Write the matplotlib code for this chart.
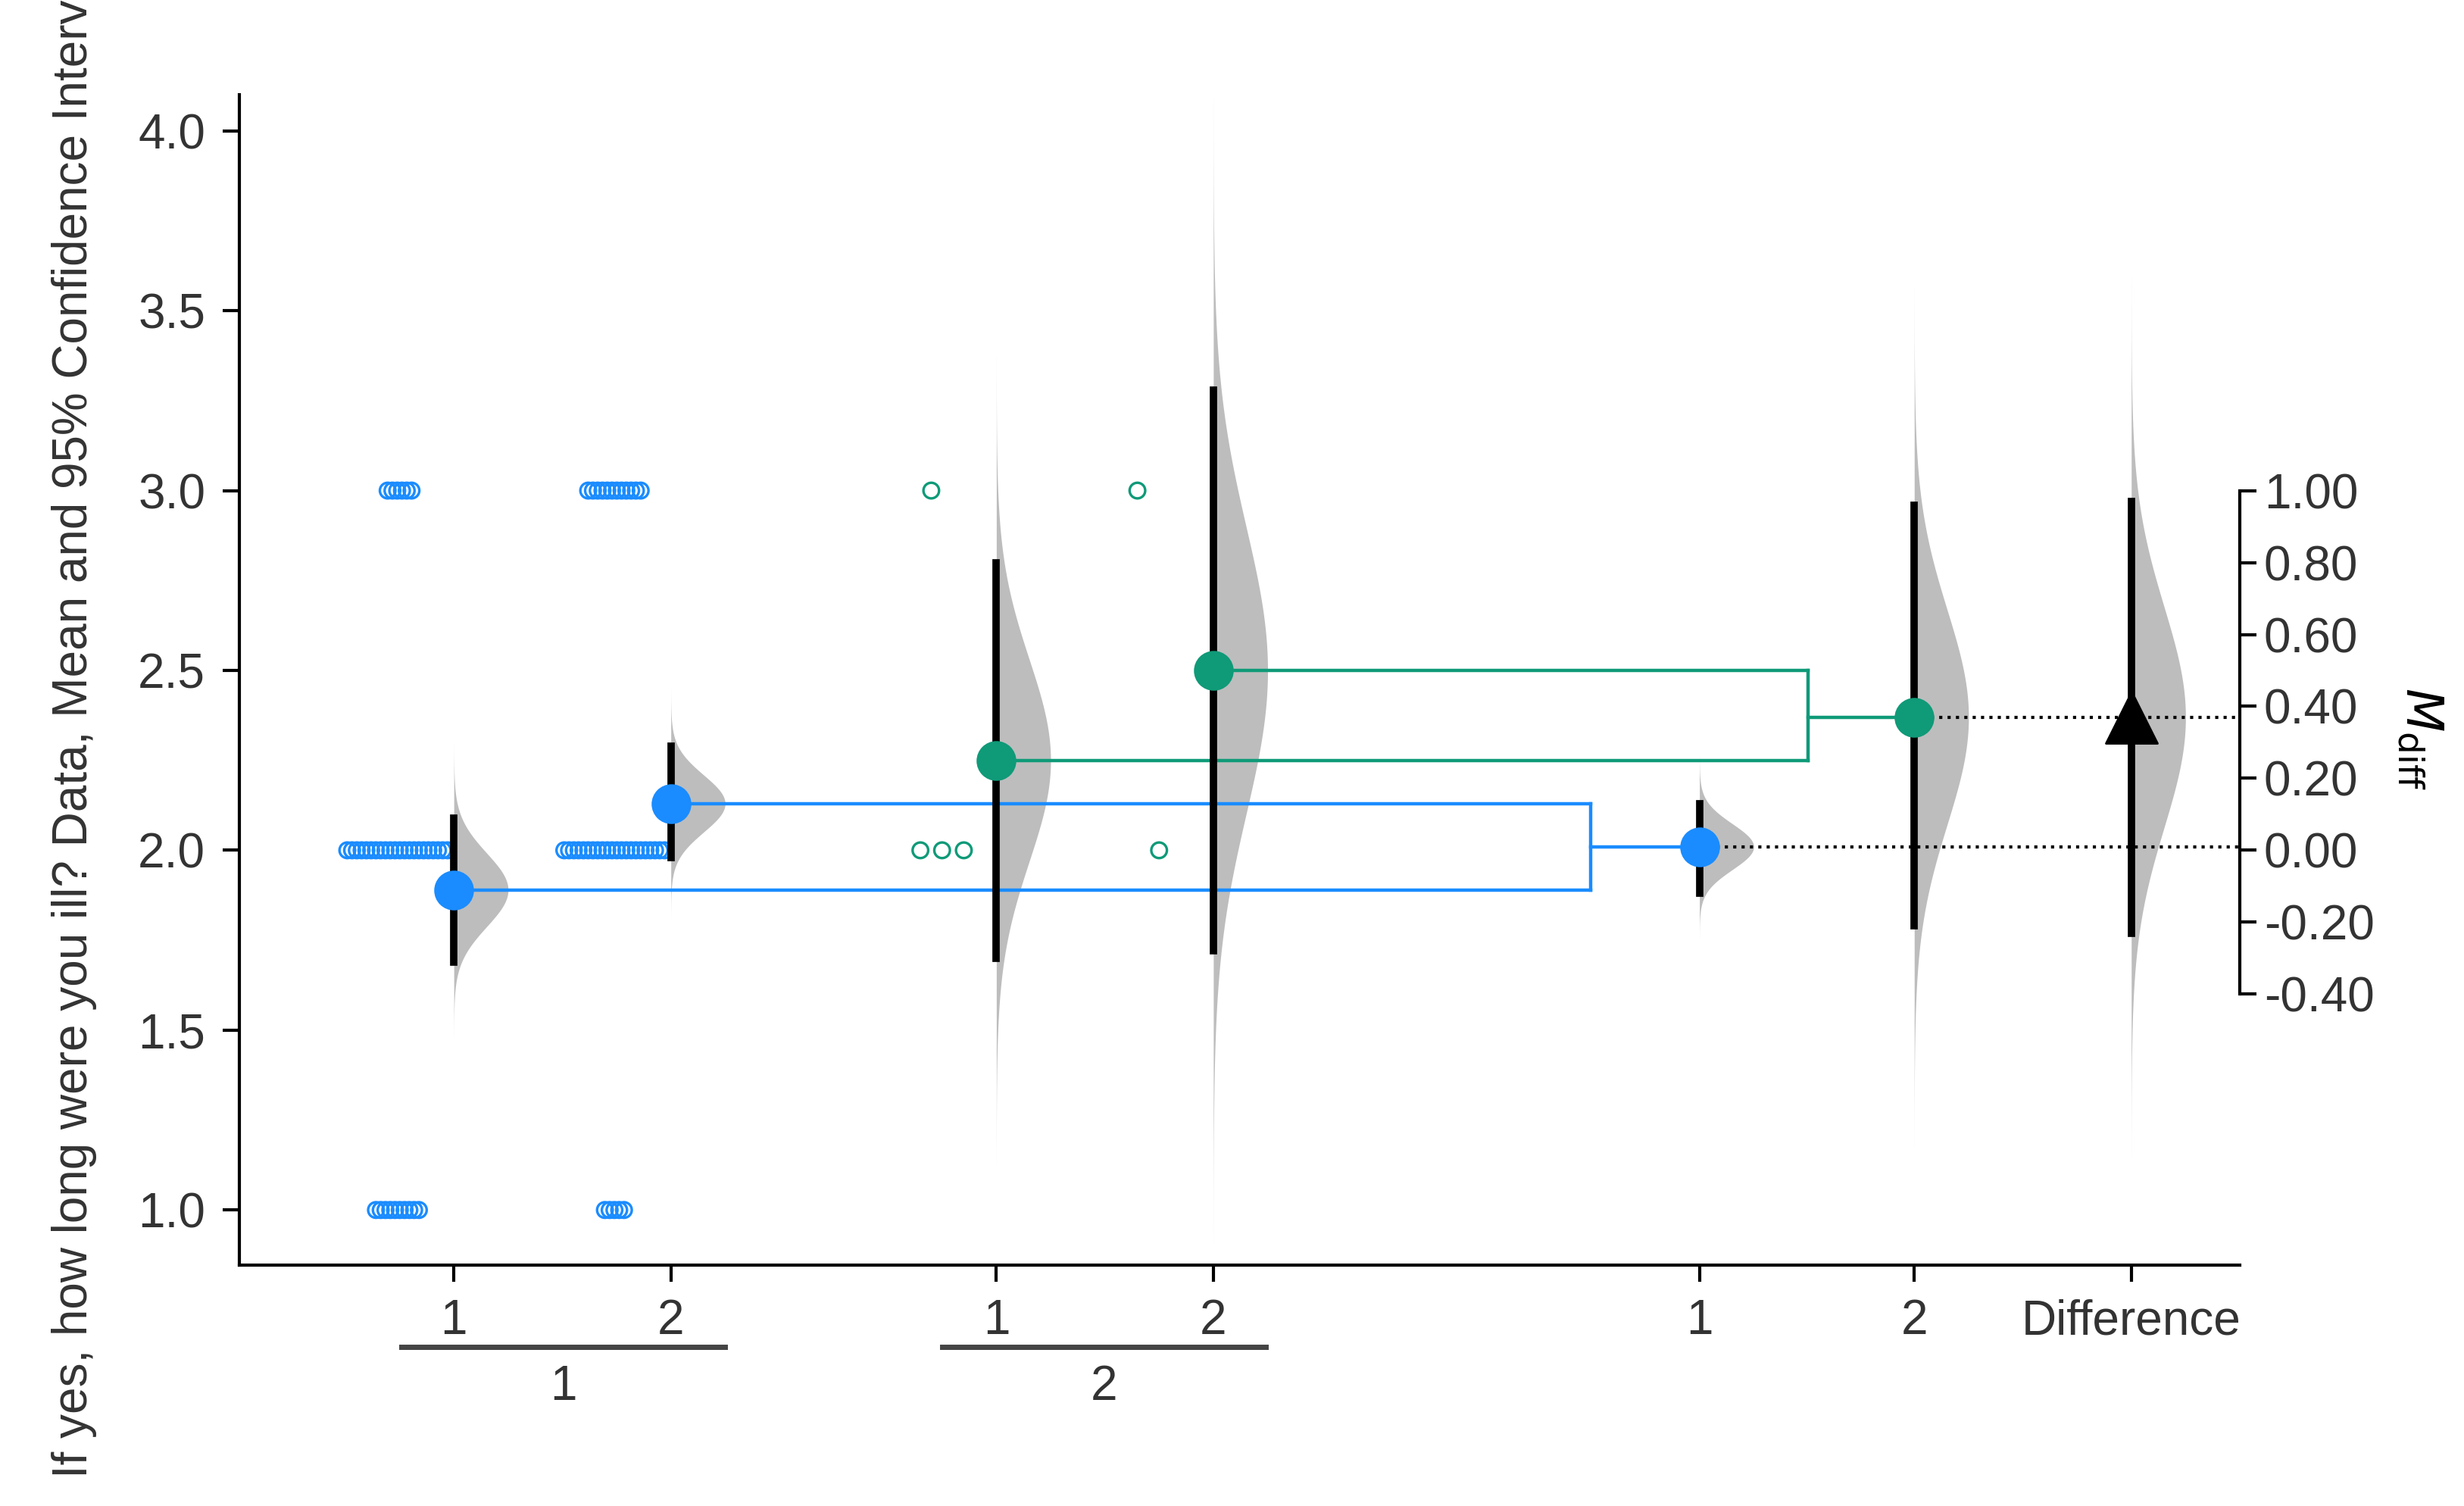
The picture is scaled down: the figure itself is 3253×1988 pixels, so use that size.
import numpy as np
import matplotlib
matplotlib.use("Agg")
import matplotlib.pyplot as plt

plt.rcParams['font.family'] = ['Liberation Sans', 'DejaVu Sans']

blue = '#1a8cff'
green = '#0f9a78'

# positions / data
xpos = [0, 1, 2.5, 3.5, 5.74, 6.73, 7.73]
tick_labels = ['1', '2', '1', '2', '1', '2', 'Difference']
means = [1.89, 2.13, 2.25, 2.50]
ci_lo = [1.69, 1.98, 1.70, 1.72]
ci_hi = [2.09, 2.29, 2.80, 3.28]
colors = [blue, blue, green, green]
# raw data: counts at each level
levels = [1.0, 2.0, 3.0]
counts = [[10, 22, 6], [5, 22, 12], [0, 3, 1], [0, 1, 1]]
pt_center = {(0, 1.0): -0.26, (0, 2.0): -0.26, (0, 3.0): -0.25,
             (1, 1.0): -0.26, (1, 2.0): -0.26, (1, 3.0): -0.26,
             (2, 2.0): -0.25, (2, 3.0): -0.3,
             (3, 2.0): -0.25, (3, 3.0): -0.35}
diff_means = [0.01, 0.37]
diff_lo = [-0.12, -0.21]
diff_hi = [0.13, 0.96]
pooled_mean = 0.37
pooled_lo = -0.23
pooled_hi = 0.97

fig = plt.figure(figsize=(16.265, 9.94), dpi=200)
ax = fig.add_axes([0.097, 0.16, 0.812, 0.777])
ax.set_xlim(-0.99, 8.23)
ax.set_ylim(0.847, 4.10)

def halfviolin(x, m, lo, hi, w=0.25):
    sd = (hi - lo) / 2 / 1.96
    y = np.linspace(m - 4 * sd, m + 4 * sd, 300)
    d = np.exp(-0.5 * ((y - m) / sd) ** 2)
    ax.fill_betweenx(y, x, x + w * d, color='#bdbdbd', lw=0, zorder=1)

for i in range(4):
    x = xpos[i]
    for lv, c in zip(levels, counts[i]):
        if c == 0:
            continue
        sp = 0.022 if c > 4 else 0.1
        xs = x + pt_center[(i, lv)] + (np.arange(c) - (c - 1) / 2) * sp
        ax.scatter(xs, [lv] * c, s=55, facecolors='none', edgecolors=colors[i], lw=1.2, zorder=3)
    halfviolin(x, means[i], ci_lo[i], ci_hi[i])
    ax.plot([x, x], [ci_lo[i], ci_hi[i]], color='black', lw=3.5, zorder=4)
    ax.scatter([x], [means[i]], s=320, color=colors[i], zorder=5)

# differences (right axis offset: diff 0 <-> 2.0 of left)
base = 2.0
for j, (xd, c) in enumerate(zip(xpos[4:6], [blue, green])):
    m = base + diff_means[j]
    halfviolin(xd, m, base + diff_lo[j], base + diff_hi[j])
    ax.plot([xd, xd], [base + diff_lo[j], base + diff_hi[j]], color='black', lw=3.5, zorder=4)
    ax.scatter([xd], [m], s=320, color=c, zorder=5)
    ax.plot([xd, 8.23], [m, m], color='black', ls=':', lw=1.5, zorder=2)

# brackets
for (a, b, xv, xd, c, dm) in [(0, 1, 5.24, xpos[4], blue, diff_means[0]),
                               (2, 3, 6.24, xpos[5], green, diff_means[1])]:
    ax.plot([xpos[a], xv], [means[a]] * 2, color=c, lw=1.6, zorder=2)
    ax.plot([xpos[b], xv], [means[b]] * 2, color=c, lw=1.6, zorder=2)
    ax.plot([xv, xv], [means[a], means[b]], color=c, lw=1.6, zorder=2)
    ax.plot([xv, xd], [base + dm] * 2, color=c, lw=1.6, zorder=2)

xp = xpos[6]
halfviolin(xp, base + pooled_mean, base + pooled_lo, base + pooled_hi)
ax.plot([xp, xp], [base + pooled_lo, base + pooled_hi], color='black', lw=3.5, zorder=4)
ax.scatter([xp], [base + pooled_mean], marker='^', s=600, color='black', zorder=5)

FS = 23
for s in ['top', 'right']:
    ax.spines[s].set_visible(False)
for s in ['left', 'bottom']:
    ax.spines[s].set_linewidth(1.5)
ax.set_yticks([1.0, 1.5, 2.0, 2.5, 3.0, 3.5, 4.0])
ax.set_yticklabels(['1.0', '1.5', '2.0', '2.5', '3.0', '3.5', '4.0'], fontsize=FS, color='#333333')
ax.set_xticks(xpos)
ax.set_xticklabels(tick_labels, fontsize=FS, color='#333333')
ax.tick_params(length=8, width=1.5, pad=8)

# right axis
ax2 = ax.twinx()
ax2.set_ylim(ax.get_ylim()[0] - base, ax.get_ylim()[1] - base)
ax2.set_xlim(ax.get_xlim())
for s in ['top', 'left', 'bottom']:
    ax2.spines[s].set_visible(False)
ax2.spines['right'].set_bounds(-0.4, 1.0)
ax2.spines['right'].set_linewidth(1.5)
rt = [-0.4, -0.2, 0.0, 0.2, 0.4, 0.6, 0.8, 1.0]
ax2.set_yticks(rt)
ax2.set_yticklabels(['%.2f' % v for v in rt], fontsize=FS, color='#333333')
ax2.tick_params(length=8, width=1.5)
ax2.text(1.09, 0.45, r'$M_{\mathrm{diff}}$', transform=ax.transAxes, rotation=-90,
         fontsize=24, ha='center', va='center')

# group labels below
for (x0, x1, lab) in [(-0.24, 1.25, '1'), (2.25, 3.74, '2')]:
    ax.plot([x0, x1], [0.62, 0.62], color='#444444', lw=2.5, clip_on=False)
    ax.text((x0 + x1) / 2, 0.57, lab, fontsize=FS, ha='center', va='top', color='#333333')

fig.text(0.03, 0.53, 'If yes, how long were you ill? Data, Mean and 95% Confidence Intervals',
         rotation=90, fontsize=FS, ha='center', va='center', color='#333333')

fig.savefig('out.png', dpi=200)
